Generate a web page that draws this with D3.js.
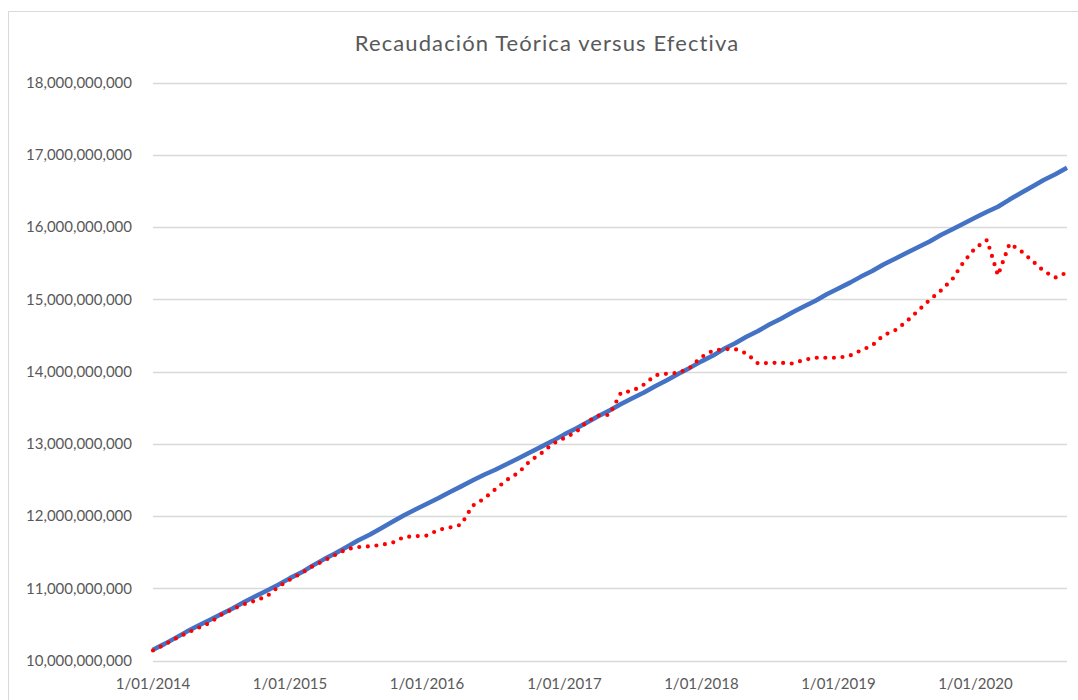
<!DOCTYPE html>
<html>
<head>
<meta charset="utf-8">
<script src="https://cdn.jsdelivr.net/npm/d3@7"></script>
<style>
  body { margin: 0; background: #fff; }
  svg { display: block; font-family: Lato, "Open Sans", sans-serif; }
</style>
</head>
<body>
<svg id="chart" width="1078" height="700"></svg>
<script>
// monthly series, Jan 2014 .. Sep 2020, billions
var firstMonth = new Date(2014, 0, 1)

var teorica = [
  10.15, 10.23, 10.31, 10.40, 10.48, 10.56, 10.64, 10.72, 10.81, 10.89, 10.97, 11.05,
  11.14, 11.22, 11.31, 11.40, 11.48, 11.57, 11.66, 11.74, 11.83, 11.92, 12.01, 12.09,
  12.17, 12.25, 12.33, 12.41, 12.49, 12.57, 12.64, 12.72, 12.80, 12.88, 12.96, 13.04,
  13.13, 13.21, 13.29, 13.38, 13.46, 13.55, 13.63, 13.71, 13.80, 13.88, 13.97, 14.05,
  14.14, 14.22, 14.31, 14.39, 14.48, 14.56, 14.65, 14.73, 14.82, 14.90, 14.98, 15.07,
  15.15, 15.23, 15.31, 15.39, 15.48, 15.56, 15.64, 15.72, 15.80, 15.89, 15.97, 16.05,
  16.13, 16.21, 16.28, 16.38, 16.47, 16.56, 16.65, 16.73, 16.82
]

var efectiva = [
  10.14, 10.22, 10.30, 10.38, 10.45, 10.52, 10.63, 10.71, 10.78, 10.83, 10.89, 11.02,
  11.12, 11.21, 11.30, 11.38, 11.46, 11.54, 11.57, 11.58, 11.60, 11.63, 11.71, 11.72,
  11.73, 11.81, 11.84, 11.88, 12.14, 12.24, 12.37, 12.50, 12.60, 12.76, 12.87, 13.00,
  13.08, 13.16, 13.30, 13.39, 13.40, 13.71, 13.73, 13.82, 13.95, 13.97, 13.98, 14.05,
  14.20, 14.29, 14.31, 14.31, 14.25, 14.11, 14.12, 14.12, 14.11, 14.16, 14.19, 14.19,
  14.19, 14.22, 14.29, 14.36, 14.50, 14.57, 14.69, 14.84, 14.99, 15.12, 15.28, 15.52,
  15.71, 15.82, 15.33, 15.77, 15.67, 15.53, 15.39, 15.30, 15.37
]

var yTicks = [10, 11, 12, 13, 14, 15, 16, 17, 18]
var xTickYears = [2014, 2015, 2016, 2017, 2018, 2019, 2020]

var title = "Recaudación Teórica versus Efectiva"

var svg = d3.select("#chart")

// chart area border
svg.append("rect")
   .attr("x", 8.5)
   .attr("y", 11.5)
   .attr("width", 1100)
   .attr("height", 720)
   .attr("fill", "none")
   .attr("stroke", "#d9d9d9")

var plotLeft = 153, plotRight = 1067, plotTop = 82.5, plotBottom = 660.5

var months = teorica.map(function(d, i) {
    return d3.timeMonth.offset(firstMonth, i)
})

var x = d3.scaleTime()
          .domain([months[0], months[months.length - 1]])
          .range([plotLeft, plotRight])

var y = d3.scaleLinear()
          .domain([10, 18])
          .range([plotBottom, plotTop])

svg.append("text")
   .attr("x", 547)
   .attr("y", 51)
   .attr("text-anchor", "middle")
   .attr("font-size", "22px")
   .attr("letter-spacing", "1.1px")
   .attr("fill", "#595959")
   .text(title)

// gridlines
svg.append("g")
   .selectAll("line")
     .data(yTicks)
   .enter().append("line")
     .attr("x1", plotLeft)
     .attr("x2", plotRight)
     .attr("y1", function(d) { return Math.round(y(d)) + 0.5 })
     .attr("y2", function(d) { return Math.round(y(d)) + 0.5 })
     .attr("stroke", "#d9d9d9")
     .attr("stroke-width", 1.3)

var fmtNum = d3.format(",")
svg.append("g")
   .selectAll("text")
     .data(yTicks)
   .enter().append("text")
     .attr("x", 132)
     .attr("y", function(d) { return y(d) })
     .attr("dy", "0.35em")
     .attr("text-anchor", "end")
     .attr("font-size", "15px")
     .attr("fill", "#595959")
     .text(function(d) { return fmtNum(d * 1e9) })

var fmtDate = d3.timeFormat("%-d/%m/%Y")
svg.append("g")
   .selectAll("text")
     .data(xTickYears)
   .enter().append("text")
     .attr("x", function(d) { return x(new Date(d, 0, 1)) })
     .attr("y", 689)
     .attr("text-anchor", "middle")
     .attr("font-size", "15px")
     .attr("fill", "#595959")
     .text(function(d) { return fmtDate(new Date(d, 0, 1)) })

var line = d3.line()
             .x(function(d, i) { return x(months[i]) })
             .y(function(d) { return y(d) })

svg.append("path")
   .datum(teorica)
   .attr("d", line)
   .attr("fill", "none")
   .attr("stroke", "#4472c4")
   .attr("stroke-width", 4.5)
   .attr("stroke-linejoin", "round")

svg.append("path")
   .datum(efectiva)
   .attr("d", line)
   .attr("fill", "none")
   .attr("stroke", "#ff0000")
   .attr("stroke-width", 4.2)
   .attr("stroke-linecap", "round")
   .attr("stroke-dasharray", "0 8.6")
</script>
</body>
</html>
